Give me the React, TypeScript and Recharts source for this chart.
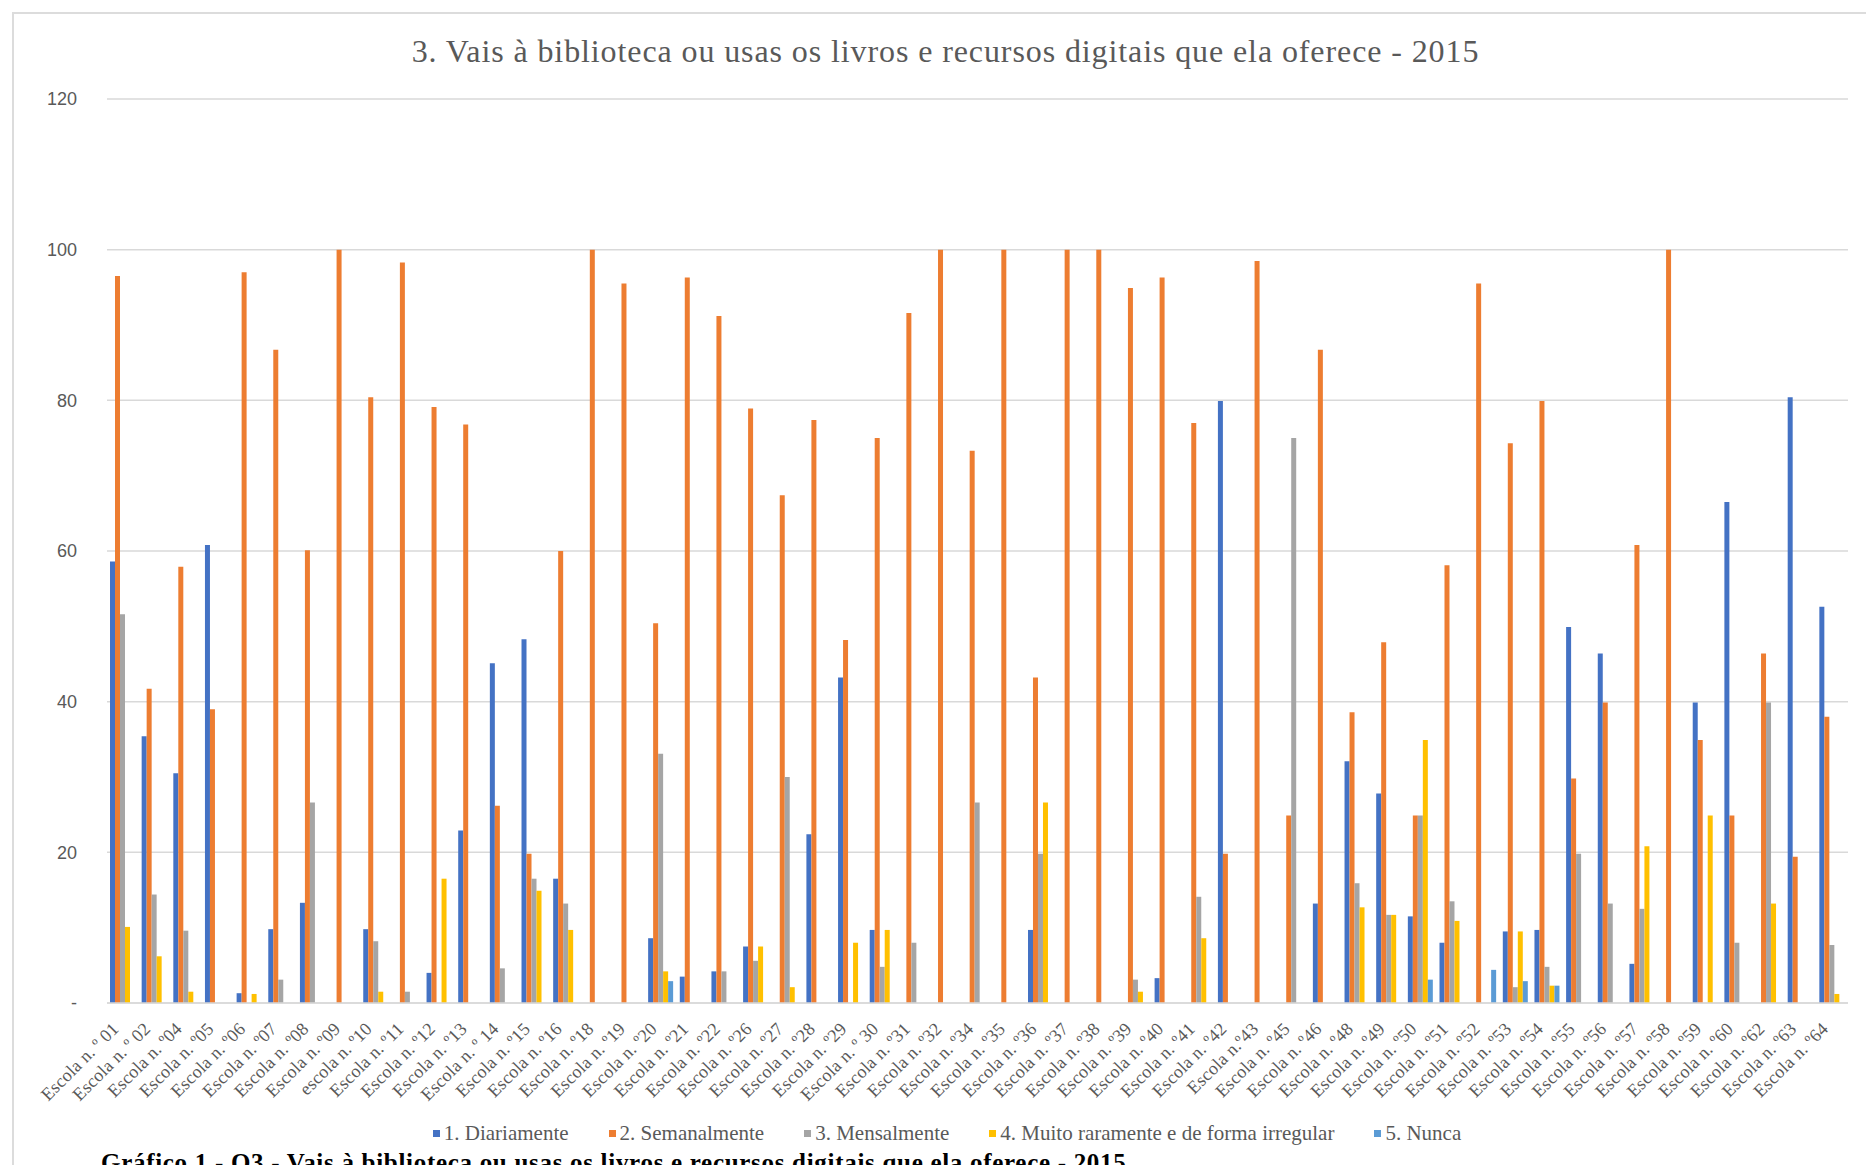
import React from 'react';
import { BarChart, Bar, XAxis, YAxis, CartesianGrid, Legend } from 'recharts';

const categories = [
  'Escola n. º 01', 'Escola n. º 02', 'Escola n. º04', 'Escola n. º05', 'Escola n. º06',
  'Escola n. º07', 'Escola n. º08', 'Escola n. º09', 'escola n. º10', 'Escola n. º11',
  'Escola n. º12', 'Escola n. º13', 'Escola n. º 14', 'Escola n. º15', 'Escola n. º16',
  'Escola n. º18', 'Escola n. º19', 'Escola n. º20', 'Escola n. º21', 'Escola n. º22',
  'Escola n. º26', 'Escola n. º27', 'Escola n. º28', 'Escola n. º29', 'Escola n. º 30',
  'Escola n. º31', 'Escola n. º32', 'Escola n. º34', 'Escola n. º35', 'Escola n. º36',
  'Escola n. º37', 'Escola n. º38', 'Escola n. º39', 'Escola n. º40', 'Escola n. º41',
  'Escola n. º42', 'Escola n.º43', 'Escola n. º45', 'Escola n. º46', 'Escola n. º48',
  'Escola n. º49', 'Escola n. º50', 'Escola n. º51', 'Escola n. º52', 'Escola n. º53',
  'Escola n. º54', 'Escola n. º55', 'Escola n. º56', 'Escola n. º57', 'Escola n. º58',
  'Escola n. º59', 'Escola n. º60', 'Escola n. º62', 'Escola n. º63', 'Escola n. º64',
];

const diariamente = [
  58.6, 35.4, 30.5, 60.8, 1.3, 9.8, 13.3, 0, 9.8, 0,
  4.0, 22.9, 45.1, 48.3, 16.5, 0, 0, 8.6, 3.5, 4.2,
  7.5, 0, 22.4, 43.2, 9.7, 0, 0, 0, 0, 9.7,
  0, 0, 0, 3.3, 0, 79.9, 0, 0, 13.2, 32.1,
  27.8, 11.5, 8.0, 0, 9.5, 9.7, 49.9, 46.4, 5.2, 0,
  39.9, 66.5, 0, 80.4, 52.6,
];

const semanalmente = [
  96.5, 41.7, 57.9, 39.0, 97.0, 86.7, 60.1, 100, 80.4, 98.3,
  79.1, 76.8, 26.2, 19.8, 60.0, 100, 95.5, 50.4, 96.3, 91.2,
  78.9, 67.4, 77.4, 48.2, 75.0, 91.6, 100, 73.3, 100, 43.2,
  100, 100, 94.9, 96.3, 77.0, 19.8, 98.5, 24.9, 86.7, 38.6,
  47.9, 24.9, 58.1, 95.5, 74.3, 79.9, 29.8, 39.9, 60.8, 100,
  34.9, 24.9, 46.4, 19.4, 38.0,
];

const mensalmente = [
  51.6, 14.4, 9.6, 0, 0, 3.1, 26.6, 0, 8.2, 1.5,
  0, 0, 4.6, 16.5, 13.2, 0, 0, 33.1, 0, 4.2,
  5.6, 30.0, 0, 0, 4.8, 8.0, 0, 26.6, 0, 19.8,
  0, 0, 3.1, 0, 14.1, 0, 0, 75.0, 0, 15.9,
  11.7, 24.9, 13.5, 0, 2.1, 4.8, 19.8, 13.2, 12.5, 0,
  0, 8.0, 39.9, 0, 7.7,
];

const raramente = [
  10.1, 6.2, 1.5, 0, 1.2, 0, 0, 0, 1.5, 0,
  16.5, 0, 0, 14.9, 9.7, 0, 0, 4.2, 0, 0,
  7.5, 2.1, 0, 8.0, 9.7, 0, 0, 0, 0, 26.6,
  0, 0, 1.5, 0, 8.6, 0, 0, 0, 0, 12.7,
  11.7, 34.9, 10.9, 0, 9.5, 2.3, 0, 0, 20.8, 0,
  24.9, 0, 13.2, 0, 1.2,
];

const nunca = [
  0, 0, 0, 0, 0, 0, 0, 0, 0, 0,
  0, 0, 0, 0, 0, 0, 0, 2.9, 0, 0,
  0, 0, 0, 0, 0, 0, 0, 0, 0, 0,
  0, 0, 0, 0, 0, 0, 0, 0, 0, 0,
  0, 3.1, 0, 4.4, 2.9, 2.3, 0, 0, 0, 0,
  0, 0, 0, 0, 0,
];

const yTicks = [0, 20, 40, 60, 80, 100, 120];

const seriesKeys = ['s1', 's2', 's3', 's4', 's5'];
const seriesNames = [
  '1. Diariamente',
  '2. Semanalmente',
  '3. Mensalmente',
  '4. Muito raramente e de forma irregular',
  '5. Nunca',
];
const seriesColors = ['#4472C4', '#ED7D31', '#A5A5A5', '#FFC000', '#5B9BD5'];

const titleText = '3. Vais à biblioteca ou usas os livros e recursos digitais que ela oferece - 2015';
const captionText = 'Gráfico 1 - Q3 - Vais à biblioteca ou usas os livros e recursos digitais que ela oferece - 2015';

const data = categories.map((name, i) => ({
  name,
  s1: diariamente[i],
  s2: semanalmente[i],
  s3: mensalmente[i],
  s4: raramente[i],
  s5: nunca[i],
}));

const XTick = (props: any) => {
  const { x, y, payload } = props;
  const ax = x - 3;
  const ay = y + 27;
  return (
    <text
      x={ax}
      y={ay}
      transform={`rotate(-45 ${ax} ${ay})`}
      textAnchor="end"
      fill="#595959"
      fontSize={18}
      letterSpacing={0.2}
      fontFamily="'Liberation Serif', serif"
    >
      {payload.value}
    </text>
  );
};

const renderLegend = (props: any) => {
  const payload = props.payload || [];
  return (
    <div
      style={{
        display: 'flex',
        justifyContent: 'center',
        alignItems: 'center',
        fontFamily: "'Liberation Serif', serif",
        fontSize: 21,
        color: '#595959',
        whiteSpace: 'nowrap',
      }}
    >
      {payload.map((e: any, i: number) => (
        <div key={i} style={{ display: 'flex', alignItems: 'center', margin: '0 20px' }}>
          <span style={{ display: 'inline-block', width: 7, height: 7, background: e.color, marginRight: 4 }} />
          <span>{e.value}</span>
        </div>
      ))}
    </div>
  );
};

export default function App() {
  return (
    <div
      style={{
        position: 'absolute',
        left: 0,
        top: 0,
        width: 1866,
        height: 1165,
        background: '#ffffff',
        overflow: 'hidden',
      }}
    >
      <div
        style={{
          position: 'absolute',
          left: 12,
          top: 12,
          width: 1900,
          height: 1300,
          borderLeft: '2px solid #dcdcdc',
          borderTop: '2px solid #dcdcdc',
        }}
      />
      <div
        style={{
          position: 'absolute',
          left: 19,
          width: 1853,
          top: 31,
          textAlign: 'center',
          fontFamily: "'Liberation Serif', serif",
          fontSize: 32,
          letterSpacing: 0.9,
          color: '#595959',
          lineHeight: '40px',
        }}
      >
        {titleText}
      </div>
      <div style={{ position: 'absolute', left: 0, top: 0 }}>
        <BarChart
          width={1866}
          height={1165}
          data={data}
          margin={{ top: 99, right: 18, left: 47, bottom: 0 }}
          barSize={5}
          barGap={0}
        >
          <CartesianGrid vertical={false} stroke="#d9d9d9" strokeWidth={1.5} />
          <XAxis
            dataKey="name"
            interval={0}
            height={162}
            tickSize={0}
            tickMargin={0}
            tick={<XTick />}
            axisLine={{ stroke: '#d9d9d9', strokeWidth: 1.5 }}
            tickLine={false}
          />
          <YAxis
            domain={[0, 120]}
            ticks={yTicks}
            width={60}
            tickSize={0}
            tickMargin={30}
            axisLine={false}
            tickLine={false}
            tickFormatter={(v: number) => (v === 0 ? '-' : String(v))}
            tick={{ fill: '#595959', fontSize: 18, fontFamily: "'Liberation Sans', sans-serif" }}
          />
          <Legend
            layout="horizontal"
            verticalAlign="middle"
            align="center"
            wrapperStyle={{ top: 1121, left: 14, width: 1866 }}
            content={renderLegend}
          />
          {seriesKeys.map((k, i) => (
            <Bar
              key={k}
              dataKey={k}
              name={seriesNames[i]}
              fill={seriesColors[i]}
              isAnimationActive={false}
            />
          ))}
        </BarChart>
      </div>
      <div
        style={{
          position: 'absolute',
          left: 101,
          top: 1148,
          fontFamily: "'Liberation Serif', serif",
          fontWeight: 'bold',
          fontSize: 25,
          letterSpacing: 0.7,
          color: '#000000',
          whiteSpace: 'nowrap',
          lineHeight: '30px',
        }}
      >
        {captionText}
      </div>
    </div>
  );
}
